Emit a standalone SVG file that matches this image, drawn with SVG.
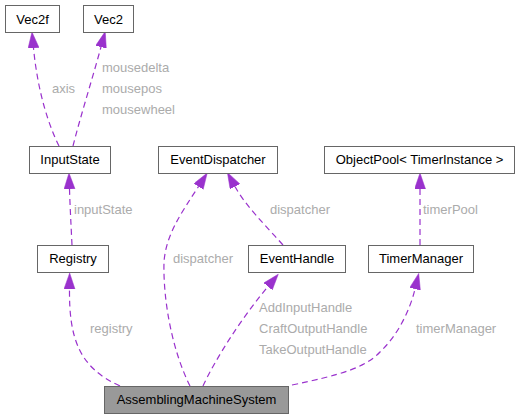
<svg xmlns="http://www.w3.org/2000/svg" width="522" height="419" viewBox="0 0 522 419">
<style>
.box{fill:#ffffff;stroke:#666666;stroke-width:1}
.main{fill:#999999;stroke:#666666;stroke-width:1}
.nt{font-family:"Liberation Sans",Arial,sans-serif;font-size:13px;fill:#000000;text-anchor:middle}
.lt{font-family:"Liberation Sans",Arial,sans-serif;font-size:13px;fill:#ababab}
.edge{fill:none;stroke:#9a32cd;stroke-width:1.2;stroke-dasharray:6,4;marker-end:url(#arr)}
</style>
<defs>
<marker id="arr" markerUnits="userSpaceOnUse" markerWidth="18" markerHeight="12" refX="0" refY="5.5" orient="auto" viewBox="0 0 18 12">
<path d="M0,0 L16,5.5 L0,11 Z" fill="#9a32cd" stroke="#9a32cd" stroke-width="0.5"/>
</marker>
</defs>
<rect width="522" height="419" fill="#ffffff"/>
<g id="connectors">
<path class="edge" d="M59,146 C50,128 38,95 33.5,48"/>
<path class="edge" d="M73,146 C80,118 92,80 101,47"/>
<path class="edge" d="M72,245 C71,225 70,205 69.5,189"/>
<path class="edge" d="M120,386 C80,368 69,340 69.5,289"/>
<path class="edge" d="M190,386 C172,350 163,300 164,262 C166,235 180,215 198.5,186.5"/>
<path class="edge" d="M203,386 C215,360 240,320 268,286.5"/>
<path class="edge" d="M283,245 C265,225 245,205 235,186.5"/>
<path class="edge" d="M420,245 L420,189"/>
<path class="edge" d="M292,385 C340,375 365,368 380,352 C398,335 410,310 415,289"/>
<text class="lt" x="52" y="93">axis</text>
<text class="lt" x="102" y="72">mousedelta</text>
<text class="lt" x="102" y="93">mousepos</text>
<text class="lt" x="102" y="114">mousewheel</text>
<text class="lt" x="74" y="214">inputState</text>
<text class="lt" x="270" y="214">dispatcher</text>
<text class="lt" x="423" y="214">timerPool</text>
<text class="lt" x="173" y="263">dispatcher</text>
<text class="lt" x="90" y="333">registry</text>
<text class="lt" x="259" y="312">AddInputHandle</text>
<text class="lt" x="259" y="333">CraftOutputHandle</text>
<text class="lt" x="259" y="354">TakeOutputHandle</text>
<text class="lt" x="416" y="333">timerManager</text>
</g>
<g id="Vec2f"><rect class="box" x="5.5" y="5.5" width="54" height="27"/><text class="nt" x="32.5" y="23.5">Vec2f</text></g>
<g id="Vec2"><rect class="box" x="83.5" y="5.5" width="50" height="27"/><text class="nt" x="108.5" y="23.5">Vec2</text></g>
<g id="InputState"><rect class="box" x="29.5" y="146.5" width="81" height="27"/><text class="nt" x="70" y="164">InputState</text></g>
<g id="EventDispatcher"><rect class="box" x="158.5" y="146.5" width="119" height="27"/><text class="nt" x="218" y="164">EventDispatcher</text></g>
<g id="ObjectPool"><rect class="box" x="324.5" y="146.5" width="190" height="27"/><text class="nt" x="419.5" y="164">ObjectPool&lt; TimerInstance &gt;</text></g>
<g id="Registry"><rect class="box" x="37.5" y="245.5" width="71" height="27"/><text class="nt" x="73" y="263">Registry</text></g>
<g id="EventHandle"><rect class="box" x="248.5" y="245.5" width="97" height="27"/><text class="nt" x="297" y="263">EventHandle</text></g>
<g id="TimerManager"><rect class="box" x="368.5" y="245.5" width="105" height="27"/><text class="nt" x="421" y="263">TimerManager</text></g>
<g id="AssemblingMachineSystem"><rect class="main" x="104.5" y="386.5" width="184" height="27"/><text class="nt" x="196.5" y="404">AssemblingMachineSystem</text></g>
</svg>
